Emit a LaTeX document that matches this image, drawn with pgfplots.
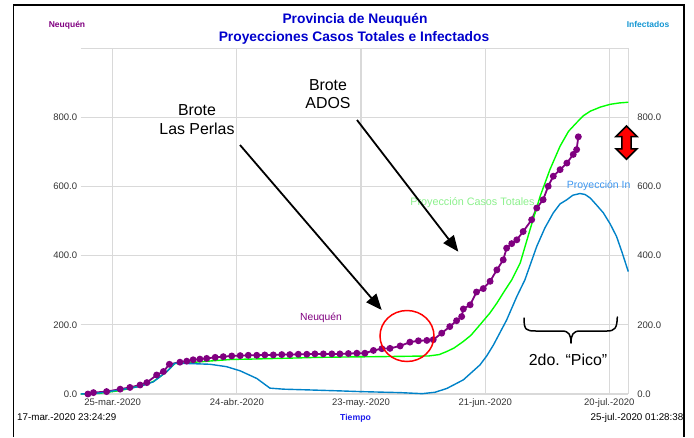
\documentclass[border=0pt]{standalone}
\usepackage{fontspec}
\setmainfont{Liberation Sans}
\usepackage{pgfplots}
\pgfplotsset{compat=1.18}
\usetikzlibrary{arrows.meta}
\definecolor{npurple}{RGB}{128,0,128}
\definecolor{ngreen}{RGB}{0,255,0}
\definecolor{nblue}{RGB}{0,130,200}
\definecolor{gridc}{RGB}{217,217,217}
\definecolor{titleblue}{RGB}{0,0,204}
\definecolor{lblgreen}{RGB}{140,240,140}
\definecolor{lblblue}{RGB}{60,150,240}
\definecolor{infblue}{RGB}{20,150,210}
\definecolor{tickgray}{RGB}{51,51,51}
\definecolor{tiempoblue}{RGB}{30,30,235}
\begin{document}
\begin{tikzpicture}
\useasboundingbox (0,0) rectangle (694pt,-437pt);
\begin{axis}[
  at={(80.7pt,-394pt)}, anchor=south west,
  scale only axis, width=547.6pt, height=345.7pt,
  xmin=0, xmax=129.08, ymin=0, ymax=1000,
  axis line style={draw=none}, major tick length=0pt,
  /pgf/number format/assume math mode=true,
  xtick={7.54,36.82,66.07,95.35,124.60},
  xticklabels={25-mar.-2020,24-abr.-2020,23-may.-2020,21-jun.-2020,20-jul.-2020},
  ytick={0,200,400,600,800},
  extra y ticks={1000}, extra y tick labels={},
  extra x ticks={129.08}, extra x tick labels={},
  extra tick style={grid=major},
  grid=major, major grid style={gridc, line width=1.1pt},
  tick label style={font=\fontsize{9.5}{11}\selectfont, text=tickgray},
  x tick label style={yshift=-1.5pt},
  y tick label style={/pgf/number format/fixed, /pgf/number format/fixed zerofill, /pgf/number format/precision=1},
  clip=false,
]
% Neuquen (observed cases)
\addplot[npurple, line width=1.8pt, mark=*, mark size=2.5pt, mark options={fill=npurple, draw=npurple}] coordinates {
(1.7,0) (3.0,4) (6.1,7) (9.3,14) (11.6,19) (14.0,26) (15.6,33) (17.9,55) (19.5,65) (20.9,86)
(23.4,92) (25.0,95) (26.5,99) (28.1,101) (29.7,103) (31.7,106) (33.6,108) (35.6,110) (37.6,111)
(39.5,112) (41.5,112) (43.4,113) (45.4,113) (47.4,114) (49.3,114) (51.3,115) (53.3,115) (55.2,116)
(57.2,116) (59.2,116) (61.1,116) (63.1,117) (65.1,118) (67.0,118) (69.0,126) (71.0,131) (72.9,132)
(75.3,139) (77.6,150) (79.6,154) (81.6,155) (83.1,157) (85.1,176) (87.0,195) (88.6,212) (89.8,224)
(90.2,246) (91.8,258) (93.3,295) (94.9,305) (96.5,326) (98.1,359) (99.6,388) (100.4,422) (101.6,435)
(102.8,446) (104.3,470) (106.3,504) (107.5,538) (109.0,562) (110.2,601) (111.4,630) (113.0,649)
(114.6,668) (116.1,693) (116.9,707) (117.3,744)
};
% Proyeccion Casos Totales
\addplot[ngreen, line width=1.4pt] coordinates {
(0,0) (4.5,2) (9.3,10) (14.0,23) (17.1,36) (18.7,50) (20.4,66) (22.2,88) (26,91) (30,95)
(35.5,100) (40,101) (50,104) (56,106) (62,107) (70,108) (76,109) (82,110) (84.5,114) (86.3,123)
(88,133) (90.2,152) (92,170) (94.1,200) (96.5,235) (98.1,263) (100,300) (101.6,330) (103.6,379)
(105.9,475) (108.3,572) (110.6,649) (113,717) (115,760) (116.9,785) (118.5,805) (120.1,818)
(122.5,830) (124.8,838) (127,842) (129.08,844)
};
% Proyeccion Infectados
\addplot[nblue, line width=1.4pt] coordinates {
(0,0) (4.5,3) (9.3,12) (14.0,22) (17.1,35) (18.7,50) (20.4,66) (22.2,89) (25.8,88) (30.5,86)
(34.4,79) (37.6,67) (41.5,45) (44.6,17) (47.8,14) (53.3,12) (61.1,9) (65.8,7) (72.1,5) (75.3,4)
(80.5,1) (83.5,5) (86.3,16) (90.2,41) (94.1,84) (95.7,110) (97.3,142) (100.4,214) (102.8,282)
(104.7,330) (107.5,427) (109.4,480) (111.4,524) (113.0,550) (114.6,562) (116.0,575) (117.7,580)
(118.9,577) (120.1,567) (121.5,548) (123.2,524) (124.8,492) (126.3,456) (127.6,410) (129.08,354)
};
\end{axis}
\begin{axis}[
  at={(80.7pt,-394pt)}, anchor=south west,
  scale only axis, width=547.6pt, height=345.7pt,
  xmin=0, xmax=129.08, ymin=0, ymax=1000,
  axis line style={draw=none}, major tick length=0pt,
  /pgf/number format/assume math mode=true,
  xtick=\empty, ytick={0,200,400,600,800},
  yticklabel pos=right,
  tick label style={font=\fontsize{9.5}{11}\selectfont, text=tickgray},
  y tick label style={xshift=5.5pt, /pgf/number format/fixed, /pgf/number format/fixed zerofill, /pgf/number format/precision=1},
]
\end{axis}
\begin{scope}[x=1pt,y=-1pt]
% outer frame
\draw[line width=1.3pt] (13.3,437) -- (13.3,5) -- (684,5) -- (684,437);
% titles
\node[anchor=base, inner sep=0, text=titleblue, font=\fontsize{13.8}{16}\selectfont\bfseries] at (355,23.3) {Provincia de Neuquén};
\node[anchor=base, inner sep=0, text=titleblue, font=\fontsize{13.8}{16}\selectfont\bfseries] at (354,41) {Proyecciones Casos Totales e Infectados};
\node[anchor=base, inner sep=0, text=npurple, font=\fontsize{8.5}{10}\selectfont\bfseries] at (67,27) {Neuquén};
\node[anchor=base, inner sep=0, text=infblue, font=\fontsize{8.5}{10}\selectfont\bfseries] at (648,27) {Infectados};
% bottom texts
\node[anchor=base west, inner sep=0, font=\fontsize{9.8}{11}\selectfont] at (17,420.5) {17-mar.-2020 23:24:29};
\node[anchor=base east, inner sep=0, font=\fontsize{9.8}{11}\selectfont] at (683.5,420.5) {25-jul.-2020 01:28:38};
\node[anchor=base, inner sep=0, text=tiempoblue, font=\fontsize{8.7}{10}\selectfont\bfseries] at (355.5,420.5) {Tiempo};
% series labels
\node[anchor=base, inner sep=0, text=npurple, font=\fontsize{10.3}{12}\selectfont] at (321,320.4) {Neuquén};
\node[anchor=base, inner sep=0, text=lblgreen, font=\fontsize{10.8}{12}\selectfont] at (472.5,205.6) {Proyección Casos Totales};
\node[anchor=base west, inner sep=0, text=lblblue, font=\fontsize{10.5}{12}\selectfont] at (566.7,188.7) {Proyección In};
% annotations
\node[anchor=base, inner sep=0, font=\fontsize{15.9}{19}\selectfont] at (197,115.3) {Brote};
\node[anchor=base, inner sep=0, font=\fontsize{15.9}{19}\selectfont] at (197,134.3) {Las Perlas};
\node[anchor=base, inner sep=0, font=\fontsize{15.9}{19}\selectfont] at (328,90.7) {Brote};
\node[anchor=base, inner sep=0, font=\fontsize{15.9}{19}\selectfont] at (328,108.3) {ADOS};
\draw[line width=1.8pt, -{Triangle[length=16pt,width=13pt]}] (240,145) -- (381.7,310);
\draw[line width=1.8pt, -{Triangle[length=16pt,width=13pt]}] (357,120) -- (458.3,251.7);
\draw[red, line width=1.5pt] (407,336) ellipse [x radius=27, y radius=25.5];
% brace
\draw[line width=1.5pt, line cap=round, line join=round]
  (524,318) .. controls (524,330) and (526,331) .. (536,331) -- (562,331)
  .. controls (569,331) and (571,335) .. (571,343)
  .. controls (571,335) and (573,331) .. (580,331) -- (607,331)
  .. controls (615,331) and (617,328) .. (617.3,317);
\node[anchor=base, inner sep=0, font=\fontsize{15.9}{19}\selectfont] at (568,365) {2do. “Pico”};
% red double arrow
\draw[fill=red, draw=black, line width=1.5pt, line join=miter]
  (626.5,126) -- (637,136.5) -- (631.2,136.5) -- (631.2,148.8) -- (637,148.8) -- (626.5,159.3)
  -- (616,148.8) -- (621.8,148.8) -- (621.8,136.5) -- (616,136.5) -- cycle;
\end{scope}
\end{tikzpicture}
\end{document}
